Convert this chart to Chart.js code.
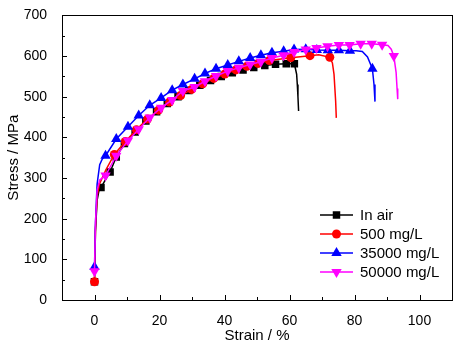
<!DOCTYPE html>
<html>
<head>
<meta charset="utf-8">
<script src="https://cdn.jsdelivr.net/npm/chart.js@4/dist/chart.umd.min.js"></script>
<style>
  html, body { margin: 0; padding: 0; background: #fff; }
  #wrap { width: 460px; height: 346px; }
</style>
</head>
<body>
<div id="wrap"><canvas id="stressChart" width="460" height="346"></canvas></div>
<script>
// axis ticks
const xTicks = [0, 20, 40, 60, 80, 100];
const xMinorTicks = [-10, 10, 30, 50, 70, 90, 110];
const yTicks = [0, 100, 200, 300, 400, 500, 600, 700];
const yMinorTicks = [50, 150, 250, 350, 450, 550, 650];

const seriesNames = ['In air', '500 mg/L', '35000 mg/L', '50000 mg/L'];

// [strain %, stress MPa] - points carrying a marker
const airMarks = [[0, 45], [2.0, 277], [4.8, 315], [6.7, 352], [9.2, 385], [12.5, 413], [15.8, 440], [19.1, 463],
  [22.4, 483], [25.7, 500], [29, 515], [32.4, 528], [35.7, 540], [39, 550], [42.4, 559], [45.7, 566],
  [49, 572], [52.4, 577], [55.7, 580], [59, 581], [61.5, 581]];
// points of the line only (rise and fracture)
const airCurve = [[0.3, 170], [0.8, 245], [1.4, 270], [61.8, 570], [62.2, 555], [62.4, 530], [62.6, 500], [62.8, 465]];

const redMarks = [[0, 45], [6.1, 358], [9.5, 390], [12.9, 419], [16.3, 445], [19.7, 467], [23.1, 487], [26.5, 503],
  [29.9, 518], [33.3, 532], [36.7, 545], [40.1, 556], [43.5, 566], [46.9, 575], [50.3, 582], [53.8, 589],
  [60.4, 596], [66.3, 601], [72.4, 597]];
const redCurve = [[0.3, 175], [0.8, 255], [1.5, 285], [3.5, 320], [69, 603], [73.2, 583], [73.7, 555], [74.2, 489], [74.4, 448]];

const blueMarks = [[0, 81], [3.4, 355], [6.7, 396], [10.3, 426], [13.6, 454], [17, 479], [20.5, 497], [23.9, 516],
  [27.2, 530], [30.8, 544], [34, 557], [37.4, 569], [41, 578], [44.4, 587], [47.9, 595], [51.2, 602],
  [54.6, 608], [58.2, 612], [61.4, 616], [65, 617], [68.4, 615], [71.8, 614], [75.2, 614], [78.6, 613], [85.5, 569]];
const blueCurve = [[0.3, 190], [0.8, 285], [1.6, 333], [2.4, 347], [80.5, 613], [82.4, 611], [84, 598], [86, 530], [86.3, 488]];

const pinkMarks = [[0, 71], [3.4, 306], [6.7, 355], [10.3, 392], [13.6, 420], [17, 449], [20.5, 473], [23.9, 492],
  [27.2, 514], [30.8, 524], [34, 538], [37.4, 551], [41, 563], [44.4, 571], [47.9, 579], [51.2, 586],
  [54.6, 595], [58.2, 602], [61.4, 610], [65, 616], [68.3, 620], [71.7, 624], [75.2, 627], [78.5, 627],
  [81.9, 630], [85.3, 630], [88.5, 628], [92.1, 600]];
const pinkCurve = [[0.3, 190], [0.8, 270], [1.6, 295], [90.3, 626], [91.3, 617], [92.8, 560], [93.1, 520], [93.3, 494]];

// merge marked and unmarked points into one line
function buildLine(marks, curve) {
    const pts = marks.map(p => ({ x: p[0], y: p[1], m: true }))
        .concat(curve.map(p => ({ x: p[0], y: p[1], m: false })));
    pts.sort((a, b) => a.x - b.x);
    return pts;
}

const styles = [
    { color: '#000000', pointStyle: 'rect', radius: 5.3, rotation: 0 },
    { color: '#ff0000', pointStyle: 'circle', radius: 4.5, rotation: 0 },
    { color: '#0000ff', pointStyle: 'triangle', radius: 6, rotation: 0 },
    { color: '#ff00ff', pointStyle: 'triangle', radius: 6, rotation: 180 }
];
const lineData = [
    buildLine(airMarks, airCurve),
    buildLine(redMarks, redCurve),
    buildLine(blueMarks, blueCurve),
    buildLine(pinkMarks, pinkCurve)
];

const datasets = seriesNames.map((name, i) => ({
    label: name,
    data: lineData[i],
    borderColor: styles[i].color,
    backgroundColor: styles[i].color,
    borderWidth: 1.5,
    pointStyle: styles[i].pointStyle,
    pointRotation: styles[i].rotation,
    pointRadius: ctx => (ctx.raw && ctx.raw.m ? styles[i].radius : 0),
    pointBorderWidth: 0,
    pointHoverRadius: 0,
    tension: 0,
    order: 3 - i
}));

const FONT = 'Arial, "Liberation Sans", sans-serif';

// inward ticks, frame and legend
const framePlugin = {
    id: 'frame',
    afterDraw(chart) {
        const ctx = chart.ctx;
        const a = chart.chartArea;
        const xs = chart.scales.x, ys = chart.scales.y;
        ctx.save();
        ctx.strokeStyle = '#000';
        ctx.lineWidth = 1;
        ctx.strokeRect(Math.round(a.left) + 0.5, Math.round(a.top) + 0.5,
            Math.round(a.right - a.left), Math.round(a.bottom - a.top));
        ctx.beginPath();
        xTicks.forEach(v => {
            const px = Math.round(xs.getPixelForValue(v)) + 0.5;
            ctx.moveTo(px, a.bottom); ctx.lineTo(px, a.bottom - 5);
        });
        xMinorTicks.forEach(v => {
            const px = Math.round(xs.getPixelForValue(v)) + 0.5;
            ctx.moveTo(px, a.bottom); ctx.lineTo(px, a.bottom - 3);
        });
        yTicks.forEach(v => {
            const py = Math.round(ys.getPixelForValue(v)) + 0.5;
            ctx.moveTo(a.left, py); ctx.lineTo(a.left + 5, py);
        });
        yMinorTicks.forEach(v => {
            const py = Math.round(ys.getPixelForValue(v)) + 0.5;
            ctx.moveTo(a.left, py); ctx.lineTo(a.left + 3, py);
        });
        ctx.stroke();

        // legend
        const lx = 320, ly = 215, gap = 19;
        ctx.font = '15px ' + FONT;
        ctx.textBaseline = 'middle';
        ctx.textAlign = 'left';
        seriesNames.forEach((name, i) => {
            const y = ly + i * gap;
            const s = styles[i];
            ctx.strokeStyle = s.color;
            ctx.lineWidth = 1.5;
            ctx.beginPath();
            ctx.moveTo(lx, y); ctx.lineTo(lx + 33, y);
            ctx.stroke();
            ctx.fillStyle = s.color;
            Chart.helpers.drawPoint(ctx, {
                pointStyle: s.pointStyle, radius: s.radius, rotation: s.rotation, borderWidth: 0
            }, lx + 16.5, y);
            ctx.fillStyle = '#000';
            ctx.fillText(name, lx + 40, y + 1);
        });
        ctx.restore();
    }
};

new Chart(document.getElementById('stressChart').getContext('2d'), {
    type: 'line',
    data: { datasets: datasets },
    options: {
        responsive: false,
        animation: false,
        parsing: false,
        layout: { padding: { top: 14, right: 8, left: 0, bottom: 0 } },
        plugins: { legend: { display: false }, tooltip: { enabled: false } },
        scales: {
            x: {
                type: 'linear',
                min: -10, max: 110,
                afterBuildTicks: s => { s.ticks = xTicks.map(v => ({ value: v })); },
                afterFit: s => { s.height = 46; },
                grid: { display: false },
                border: { display: false },
                ticks: { color: '#000', font: { size: 14, family: FONT }, padding: 5, maxRotation: 0 },
                title: { display: true, text: 'Strain / %', color: '#000', font: { size: 15, family: FONT }, padding: { top: 2, bottom: 1 } }
            },
            y: {
                type: 'linear',
                min: 0, max: 700,
                afterBuildTicks: s => { s.ticks = yTicks.map(v => ({ value: v })); },
                afterFit: s => { s.width = 62; },
                grid: { display: false },
                border: { display: false },
                ticks: { color: '#000', font: { size: 14, family: FONT }, padding: 7 },
                title: { display: true, text: 'Stress / MPa', color: '#000', font: { size: 15, family: FONT }, padding: { top: 5, bottom: 2 } }
            }
        }
    },
    plugins: [framePlugin]
});
</script>
</body>
</html>
